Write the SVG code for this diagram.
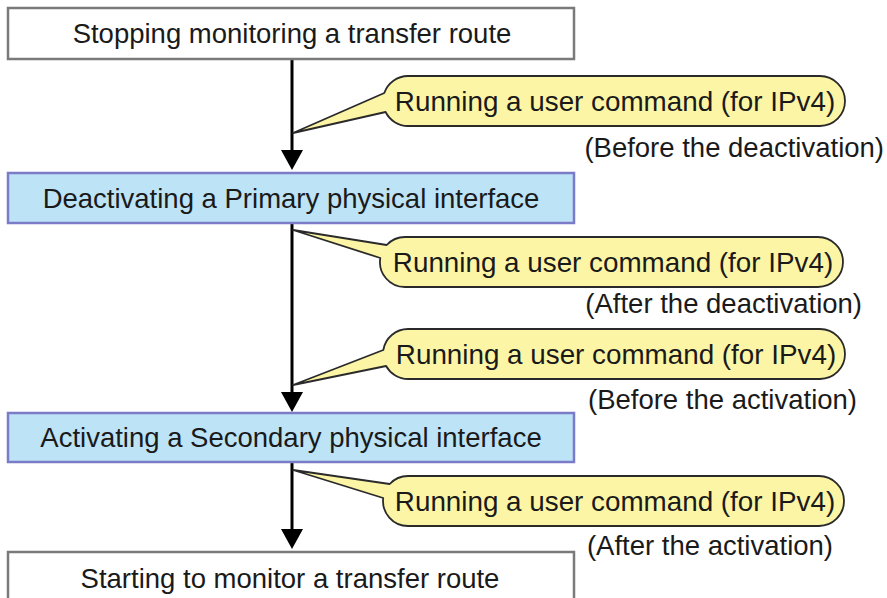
<svg xmlns="http://www.w3.org/2000/svg" width="887" height="598" viewBox="0 0 887 598">
<style>
text{font-family:"Liberation Sans",Arial,sans-serif;font-size:27.5px;fill:#1a1a1a}
.c{text-anchor:middle}
.r{text-anchor:end}
.b{font-size:27.8px}
.plain{fill:#fff;stroke:#7a7a7a;stroke-width:2.5}
.blue{fill:#bde3f7;stroke:#7b7bc8;stroke-width:2.5}
.bub{fill:#fdf5a6;stroke:#2a2a2a;stroke-width:1.8;stroke-linejoin:round}
.flow{stroke:#000;stroke-width:3;fill:none}
</style>
<defs>
<marker id="arr" markerUnits="userSpaceOnUse" viewBox="0 0 20 22" refX="12" refY="11" markerWidth="20" markerHeight="22" orient="auto">
<path d="M0,0 L20,11 L0,22 Z" fill="#000"/>
</marker>
</defs>
<g id="connectors">
<line class="flow" x1="292" y1="59" x2="292" y2="162" marker-end="url(#arr)"/>
<line class="flow" x1="292" y1="223" x2="292" y2="404" marker-end="url(#arr)"/>
<line class="flow" x1="292" y1="462" x2="292" y2="541" marker-end="url(#arr)"/>
</g>
<g id="n1">
<rect class="plain" x="8" y="8" width="566" height="51"/>
<text class="c" x="292" y="43">Stopping monitoring a transfer route</text>
</g>
<g id="n2">
<rect class="blue" x="8" y="173" width="566" height="50"/>
<text class="c" x="291" y="208">Deactivating a Primary physical interface</text>
</g>
<g id="n3">
<rect class="blue" x="8" y="413" width="566" height="49"/>
<text class="c" x="291" y="447">Activating a Secondary physical interface</text>
</g>
<g id="n4">
<rect class="plain" x="8" y="552" width="566" height="60"/>
<text class="c" x="290" y="588">Starting to monitor a transfer route</text>
</g>
<g id="c1">
<path class="bub" d="M384.3,93 L293,133 L385.6,112 A25,25 0 0 0 408,126 L820,126 A25,25 0 0 0 820,76 L408,76 A25,25 0 0 0 384.3,93 Z"/>
<text class="c b" x="615" y="111">Running a user command (for IPv4)</text>
<text class="r" x="884" y="157">(Before the deactivation)</text>
</g>
<g id="c2">
<path class="bub" d="M386.7,245 L293,230 L380.3,258 A25,25 0 0 0 405,287 L818,287 A25,25 0 0 0 818,237 L405,237 A25,25 0 0 0 386.7,245 Z"/>
<text class="c b" x="613" y="272">Running a user command (for IPv4)</text>
<text class="r" x="862" y="313">(After the deactivation)</text>
</g>
<g id="c3">
<path class="bub" d="M383.3,350 L293,385 L386.1,366 A25,25 0 0 0 408,379 L820,379 A25,25 0 0 0 820,329 L408,329 A25,25 0 0 0 383.3,350 Z"/>
<text class="c b" x="616" y="364">Running a user command (for IPv4)</text>
<text class="r" x="857" y="409">(Before the activation)</text>
</g>
<g id="c4">
<path class="bub" d="M389.7,484 L293,470 L383.2,498 A25,25 0 0 0 408,526 L819,526 A25,25 0 0 0 819,476 L408,476 A25,25 0 0 0 389.7,484 Z"/>
<text class="c b" x="615" y="511">Running a user command (for IPv4)</text>
<text class="r" x="833" y="555">(After the activation)</text>
</g>
</svg>
